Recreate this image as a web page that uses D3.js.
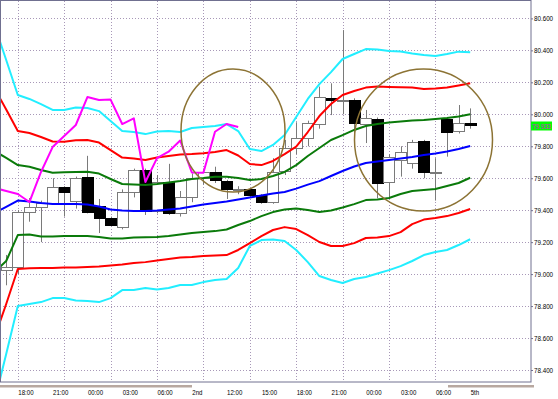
<!doctype html>
<html lang="en">
<head>
<meta charset="utf-8">
<title>USDJPY 1H</title>
<style>
  body { margin: 0; background: #fff; }
  text { font-family: "Liberation Sans", Arial, sans-serif; font-size: 8px; fill: #000; }
  .grid line { stroke: #a898b8; stroke-width: 1px; stroke-dasharray: 1,2; }
  .band { fill: none; stroke-width: 2px; stroke-linejoin: round; }
</style>
</head>
<body>
<svg width="558" height="399"></svg>
<script src="https://cdn.jsdelivr.net/npm/d3@7/dist/d3.min.js"></script>
<script>
// hourly candles, bar 0 = 17:00
const opens  = [79.03, 79.046, 79.39, 79.42, 79.447, 79.547, 79.457, 79.61, 79.426, 79.35,
                79.30, 79.516, 79.651, 79.395, 79.576, 79.382, 79.48, 79.60, 79.641, 79.583,
                79.525, 79.53, 79.494, 79.453, 79.64, 79.787, 79.85, 79.944, 80.10, 80.085,
                80.089, 79.94, 79.97, 79.576, 79.713, 79.70, 79.833, 79.64, 79.97, 79.891, 79.944];
const highs  = [79.12, 79.40, 79.476, 79.46, 79.60, 79.55, 79.61, 79.74, 79.47, 79.36,
                79.53, 79.66, 79.66, 79.62, 79.69, 79.52, 79.63, 79.66, 79.672, 79.59,
                79.55, 79.535, 79.50, 79.725, 79.84, 79.95, 79.96, 80.173, 80.194, 80.527,
                80.10, 80.027, 79.98, 79.75, 79.80, 79.84, 79.84, 79.725, 79.98, 80.058, 80.037];
const lows   = [78.93, 79.00, 79.328, 79.20, 79.44, 79.36, 79.41, 79.38, 79.257, 79.30,
                79.28, 79.48, 79.37, 79.38, 79.37, 79.36, 79.45, 79.56, 79.57, 79.47,
                79.50, 79.48, 79.44, 79.44, 79.62, 79.75, 79.80, 79.91, 79.995, 80.00,
                79.84, 79.82, 79.475, 79.47, 79.61, 79.66, 79.60, 79.46, 79.735, 79.88, 79.91];
const closes = [79.046, 79.39, 79.422, 79.447, 79.547, 79.516, 79.603, 79.39, 79.35, 79.307,
                79.516, 79.651, 79.395, 79.578, 79.382, 79.48, 79.60, 79.64, 79.589, 79.53,
                79.53, 79.494, 79.453, 79.64, 79.787, 79.85, 79.944, 80.11, 80.085, 80.09,
                79.944, 79.975, 79.572, 79.733, 79.766, 79.829, 79.637, 79.64, 79.891, 79.944, 79.933];

// bands, first value is bar -1 (just off the left edge)
const upper3 = [80.554, 80.340, 80.121, 80.096, 80.064, 80.027, 80.027, 80.042, 80.039, 80.020,
                79.958, 79.895, 79.889, 79.876, 79.892, 79.895, 79.889, 79.914, 79.920, 79.927,
                79.939, 79.895, 79.783, 79.770, 79.808, 79.870, 79.983, 80.096, 80.189, 80.264,
                80.346, 80.377, 80.408, 80.405, 80.396, 80.393, 80.380, 80.371, 80.365, 80.377,
                80.392, 80.388];
const upper2 = [80.161, 80.030, 79.895, 79.883, 79.858, 79.830, 79.828, 79.837, 79.839, 79.823,
                79.776, 79.729, 79.723, 79.714, 79.729, 79.739, 79.749, 79.751, 79.756, 79.764,
                79.776, 79.742, 79.689, 79.682, 79.708, 79.751, 79.798, 79.889, 79.989, 80.064,
                80.121, 80.146, 80.167, 80.174, 80.171, 80.169, 80.167, 80.158, 80.161, 80.167,
                80.180, 80.194];
const upper1 = [79.770, 79.727, 79.682, 79.672, 79.651, 79.634, 79.637, 79.639, 79.641, 79.629,
                79.595, 79.564, 79.560, 79.557, 79.564, 79.573, 79.582, 79.595, 79.601, 79.609,
                79.609, 79.601, 79.589, 79.595, 79.614, 79.639, 79.682, 79.739, 79.789, 79.839,
                79.870, 79.902, 79.927, 79.939, 79.948, 79.955, 79.961, 79.964, 79.970, 79.977,
                79.986, 80.000];
const middle = [79.382, 79.420, 79.460, 79.454, 79.445, 79.438, 79.438, 79.438, 79.435, 79.423,
                79.404, 79.398, 79.395, 79.395, 79.398, 79.404, 79.410, 79.423, 79.435, 79.445,
                79.454, 79.467, 79.479, 79.492, 79.504, 79.514, 79.535, 79.560, 79.582, 79.614,
                79.645, 79.673, 79.695, 79.704, 79.714, 79.723, 79.733, 79.745, 79.754, 79.767,
                79.783, 79.801];
const lower1 = [79.013, 79.082, 79.244, 79.248, 79.235, 79.235, 79.238, 79.238, 79.238, 79.232,
                79.223, 79.223, 79.229, 79.230, 79.232, 79.238, 79.248, 79.257, 79.263, 79.269,
                79.279, 79.307, 79.332, 79.363, 79.388, 79.404, 79.410, 79.401, 79.388, 79.398,
                79.417, 79.438, 79.463, 79.467, 79.476, 79.501, 79.520, 79.526, 79.532, 79.551,
                79.570, 79.603];
const lower2 = [78.606, 78.813, 79.032, 79.036, 79.038, 79.038, 79.041, 79.042, 79.044, 79.047,
                79.054, 79.060, 79.069, 79.075, 79.085, 79.094, 79.104, 79.107, 79.113, 79.116,
                79.119, 79.151, 79.194, 79.238, 79.276, 79.294, 79.282, 79.244, 79.201, 79.176,
                79.176, 79.194, 79.226, 79.229, 79.238, 79.263, 79.313, 79.341, 79.351, 79.363,
                79.382, 79.407];
const lower3 = [78.206, 78.500, 78.800, 78.813, 78.825, 78.850, 78.850, 78.835, 78.831, 78.825,
                78.850, 78.900, 78.900, 78.913, 78.903, 78.913, 78.932, 78.932, 78.950, 78.963,
                78.969, 79.038, 79.176, 79.213, 79.216, 79.207, 79.151, 79.075, 78.988, 78.963,
                78.944, 78.969, 78.982, 79.004, 79.025, 79.050, 79.082, 79.119, 79.138, 79.151,
                79.182, 79.218];
// lagging close line, first value is bar -1
const lagging = [79.539, 79.520, 79.501, 79.451, 79.639, 79.795, 79.864, 79.933, 80.108, 80.089,
                 80.092, 79.939, 79.975, 79.576, 79.726, 79.766, 79.836, 79.636, 79.634, 79.891,
                 79.939, 79.920];

const priceTicks = [78.4, 78.6, 78.8, 79.0, 79.2, 79.4, 79.6, 79.8, 80.0, 80.2, 80.4, 80.6];
const gridBars = [1, 5, 9, 13, 17, 21, 25, 29, 33, 37];
const labelBars = [1, 4, 7, 10, 13, 16, 19, 22, 25, 28, 31, 34, 37, 40];
const xLabels = ["18:00", "21:00", "00:00", "03:00", "06:00", "2nd", "12:00",
                 "15:00", "18:00", "21:00", "00:00", "03:00", "06:00", "5th"];
const lastPrice = 79.933;

const W = 558, H = 399;
const plot = {l: 0, t: 1, r: 531, b: 382};
const x = d3.scaleLinear().domain([0, 40]).range([6.2, 470.2]);
const y = d3.scaleLinear().domain([78.4, 80.6]).range([370, 18.4]);
const bw = 11;

const svg = d3.select("svg");
svg.append("rect").attr("width", W).attr("height", H).attr("fill", "#fff");
svg.append("defs").append("clipPath").attr("id", "clip").append("rect")
  .attr("x", plot.l).attr("y", plot.t).attr("width", plot.r - plot.l).attr("height", plot.b - plot.t);

// grid
const grid = svg.append("g").attr("class", "grid");
grid.selectAll(".h").data(priceTicks).enter().append("line")
  .attr("x1", plot.l).attr("x2", plot.r)
  .attr("y1", d => Math.round(y(d)) + 0.5).attr("y2", d => Math.round(y(d)) + 0.5);
grid.selectAll(".v").data(gridBars).enter().append("line")
  .attr("y1", plot.t).attr("y2", plot.b)
  .attr("x1", d => Math.round(x(d)) + 0.5).attr("x2", d => Math.round(x(d)) + 0.5);

const chart = svg.append("g").attr("clip-path", "url(#clip)");

// candles
const bars = d3.range(opens.length);
const cg = chart.append("g");
cg.selectAll(".wick").data(bars).enter().append("line")
  .attr("x1", i => Math.round(x(i)) + 0.5).attr("x2", i => Math.round(x(i)) + 0.5)
  .attr("y1", i => y(highs[i])).attr("y2", i => y(lows[i]))
  .attr("stroke", "#7a7a7a").attr("stroke-width", 1);
cg.selectAll(".body").data(bars).enter().append("rect")
  .attr("x", i => Math.round(x(i) - bw / 2) + 0.5)
  .attr("y", i => Math.round(y(Math.max(opens[i], closes[i]))) + 0.5)
  .attr("width", bw)
  .attr("height", i => Math.max(1, Math.round(Math.abs(y(opens[i]) - y(closes[i])))))
  .attr("fill", i => closes[i] < opens[i] ? "#000" : "#fff")
  .attr("stroke", i => closes[i] < opens[i] ? "#000" : "#7a7a7a")
  .attr("stroke-width", 1);

// bands
const line = d3.line().x((d, k) => x(k - 1)).y(d => y(d));
const bands = [
  [upper3, "#22eeff"], [lower3, "#22eeff"],
  [upper2, "#ff0000"], [lower2, "#ff0000"],
  [upper1, "#0a7a0a"], [lower1, "#0a7a0a"],
  [middle, "#0000ff"],
  [lagging, "#ff00ff"]
];
chart.selectAll(".band").data(bands).enter().append("path")
  .attr("class", "band")
  .attr("d", d => line(d[0]))
  .attr("stroke", d => d[1]);

// marked areas
svg.append("ellipse").attr("cx", 233).attr("cy", 130.5).attr("rx", 52).attr("ry", 61.5)
  .attr("fill", "none").attr("stroke", "#8c7334").attr("stroke-width", 1.5);
svg.append("ellipse").attr("cx", 423.5).attr("cy", 140).attr("rx", 69).attr("ry", 71)
  .attr("fill", "none").attr("stroke", "#8c7334").attr("stroke-width", 1.5);

// frame
svg.append("rect").attr("x", 0.5).attr("y", 0.5).attr("width", plot.r - 0.5).attr("height", plot.b - 0.5)
  .attr("fill", "none").attr("stroke", "#707090");

// scroll strips under the axis
svg.append("rect").attr("x", 0).attr("y", 385).attr("width", 192).attr("height", 2.5).attr("fill", "#b8a8a0");
svg.append("rect").attr("x", 448).attr("y", 385).attr("width", 86).attr("height", 2.5).attr("fill", "#b8a8a0");

function squeeze(sel, k) {
  sel.each(function() {
    const len = this.getComputedTextLength();
    d3.select(this).attr("textLength", len * k).attr("lengthAdjust", "spacingAndGlyphs");
  });
}

// price axis
const yAxis = svg.append("g").attr("transform", `translate(${plot.r},0)`)
  .call(d3.axisRight(y).tickValues(priceTicks).tickFormat(d3.format(".3f")).tickSize(2).tickPadding(1));
yAxis.select(".domain").remove();
yAxis.selectAll("line").attr("stroke", "#707090");
yAxis.selectAll("text").attr("font-size", 8).attr("font-family", "Liberation Sans, Arial, sans-serif")
  .call(squeeze, 0.78);

// time axis
const xAxis = svg.append("g").attr("transform", `translate(0,${plot.b})`)
  .call(d3.axisBottom(x).tickValues(labelBars).tickFormat((d, k) => xLabels[k]).tickSize(0).tickPadding(7));
xAxis.select(".domain").remove();
xAxis.selectAll("text").attr("text-anchor", "start").attr("font-size", 8)
  .attr("font-family", "Liberation Sans, Arial, sans-serif")
  .call(squeeze, 0.76);

// last price tag
const py = y(lastPrice);
svg.append("rect").attr("x", 531).attr("y", py - 3.5).attr("width", 21).attr("height", 9).attr("fill", "#00ff00");
svg.append("text").attr("x", 532).attr("y", py + 4).attr("fill", "#d020d0").style("fill", "#d020d0")
  .text(d3.format(".3f")(lastPrice)).call(squeeze, 0.78);
</script>
</body>
</html>
